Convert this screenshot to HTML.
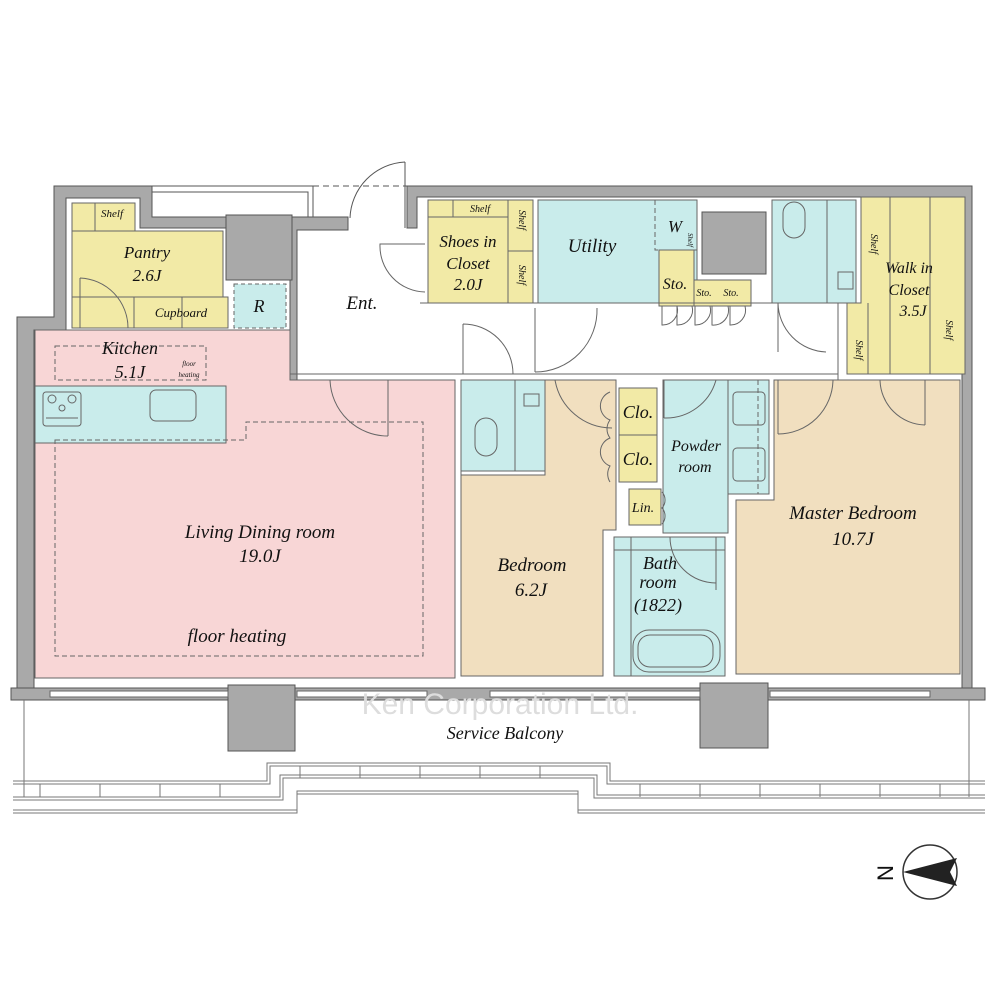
<!DOCTYPE html>
<html><head><meta charset="utf-8"><style>
html,body{margin:0;padding:0;background:#fff}
svg{display:block}
text{font-family:"Liberation Serif",serif;font-style:italic;fill:#111;text-anchor:middle}
</style></head><body>
<svg width="1000" height="1000" viewBox="0 0 1000 1000" xmlns="http://www.w3.org/2000/svg">
<g stroke="#555" stroke-width="1">
<!-- outer walls -->
<path d="M54 186H152V217H226V215H292V217H348V230H297V380H290V230H292V280H226V228H140V198H66V330H34V688H17V317H54Z" fill="#a9a9a9"/>
<path d="M407 186H972V690H962V197H417V228H407Z" fill="#a9a9a9"/>
<rect x="11" y="688" width="974" height="12" fill="#a9a9a9"/>
<!-- column -->
<rect x="226" y="215" width="66" height="65" fill="#a9a9a9"/>
<rect x="702" y="212" width="64" height="62" fill="#a9a9a9"/>
<rect x="228" y="685" width="67" height="66" fill="#a9a9a9"/>
<rect x="700" y="683" width="68" height="65" fill="#a9a9a9"/>
</g>
<!-- outside ent lines -->
<g fill="none" stroke="#555" stroke-width="1">
<path d="M152 186H313V217M152 192H308V217"/>
<path d="M313 186H407" stroke-dasharray="6 4"/>
<path d="M405 162V228M405 162A58 58 0 0 0 350 218"/>
</g>
<!-- rooms -->
<g stroke="#666" stroke-width="1">
<path d="M35 330H290V380H455V678H35Z" fill="#f8d6d6"/>
<rect x="72" y="203" width="63" height="28" fill="#f2eaa6"/>
<rect x="72" y="231" width="151" height="66" fill="#f2eaa6"/>
<rect x="72" y="297" width="62" height="31" fill="#f2eaa6"/>
<rect x="134" y="297" width="94" height="31" fill="#f2eaa6"/>
<rect x="234" y="284" width="52" height="44" fill="#c9eceb" stroke-dasharray="4 3"/>
<rect x="35" y="386" width="191" height="57" fill="#c9eceb"/>
<rect x="428" y="200" width="105" height="103" fill="#f2eaa6"/>
<rect x="538" y="200" width="159" height="103" fill="#c9eceb"/>
<rect x="659" y="250" width="35" height="56" fill="#f2eaa6"/>
<rect x="694" y="280" width="57" height="26" fill="#f2eaa6"/>
<rect x="772" y="200" width="84" height="103" fill="#c9eceb"/>
<path d="M861 197H965V374H847V303H861Z" fill="#f2eaa6"/>
<rect x="461" y="380" width="84" height="91" fill="#c9eceb"/>
<path d="M461 475H545V380H616V530H603V676H461Z" fill="#f1dfbf"/>
<rect x="619" y="388" width="38" height="94" fill="#f2eaa6"/>
<rect x="629" y="489" width="32" height="36" fill="#f2eaa6"/>
<path d="M663 380H769V494H728V533H663Z" fill="#c9eceb"/>
<rect x="614" y="537" width="111" height="139" fill="#c9eceb"/>
<path d="M774 380H960V674H736V500H774Z" fill="#f1dfbf"/>
</g>
<!-- interior lines -->
<g fill="none" stroke="#666" stroke-width="1">
<path d="M95 203V231M72 297H134M182 297V328"/>
<path d="M453 200V217M428 217H508M508 200V303M508 251H533"/>
<path d="M827 200V303M532 380H545M461 380V475"/>
<path d="M515 380V471M614 550H725M631 537V676"/>
<path d="M619 435H657M728 380V494"/>
<path d="M890 197V374M930 197V374M868 303V374"/>
<path d="M655 200V250H697" stroke-dasharray="5 3"/>
<path d="M758 380V494" stroke-dasharray="5 3"/>
<path d="M55 346H206V380H55Z" stroke-dasharray="5 3"/>
<path d="M55 440H246V422H423V656H55Z" stroke-dasharray="5 3"/>
<path d="M290 380H455M290 374H838V380M838 303V380M420 303H838"/>
<!-- doors -->
<path d="M80 278V328M80 278A50 50 0 0 1 128 328"/>
<path d="M425 244H380A46 46 0 0 0 425 292"/>
<path d="M463 324V374M463 324A50 50 0 0 1 513 374"/>
<path d="M535 308V372M535 372A62 62 0 0 0 597 308"/>
<path d="M388 380V436M388 436A58 58 0 0 1 330 380"/>
<path d="M555 380A58 58 0 0 0 612 428"/>
<path d="M664 380V418M664 418A52 52 0 0 0 716 380"/>
<path d="M778 380V434M778 434A55 55 0 0 0 833 380"/>
<path d="M925 380V425M880 380A46 46 0 0 0 925 425"/>
<path d="M778 303V352M778 303A50 50 0 0 0 826 352"/>
<path d="M716 537V590M670 537A46 46 0 0 0 716 583"/>
<path d="M610 392A15 15 0 0 0 610 420A15 15 0 0 0 610 438A15 15 0 0 0 610 466A15 15 0 0 0 610 482"/>
<path d="M662 492A12 12 0 0 1 662 508A12 12 0 0 1 662 524"/>
<path d="M662 306V325A15 15 0 0 0 677 306M677 306V325A15 15 0 0 0 692 306M695 306V325A15 15 0 0 0 710 306M712 306V325A15 15 0 0 0 728 306M730 306V325A15 15 0 0 0 745 306"/>
<!-- fixtures -->
<rect x="43" y="392" width="38" height="34" rx="3"/>
<circle cx="52" cy="399" r="4"/><circle cx="72" cy="399" r="4"/><circle cx="62" cy="408" r="3"/>
<path d="M46 418H78"/>
<rect x="150" y="390" width="46" height="31" rx="6"/>
<rect x="783" y="202" width="22" height="36" rx="11"/>
<rect x="475" y="418" width="22" height="38" rx="11"/>
<rect x="524" y="394" width="15" height="12"/>
<rect x="838" y="272" width="15" height="17"/>
<rect x="733" y="392" width="32" height="33" rx="4"/>
<rect x="733" y="448" width="32" height="33" rx="4"/>
<rect x="633" y="630" width="87" height="42" rx="16"/>
<rect x="638" y="635" width="75" height="32" rx="12"/>
</g>
<!-- windows -->
<g fill="#fff" stroke="#666" stroke-width="1">
<rect x="50" y="691" width="178" height="6"/>
<rect x="297" y="691" width="130" height="6"/>
<rect x="490" y="691" width="210" height="6"/>
<rect x="770" y="691" width="160" height="6"/>
</g>
<!-- balcony -->
<g fill="none" stroke="#777" stroke-width="1">
<path d="M24 700V797M969 700V797"/>
<path d="M13 781H267V763H610V781H985M13 784H270V766H607V784H985"/>
<path d="M13 797H280V775H597V795H985M13 800H283V778H594V798H985"/>
<path d="M13 810H297V791H578V810H985M13 813H297V794H578V813H985"/>
<path d="M40 784V797M100 784V797M160 784V797M220 784V797M300 766V778M360 766V778M420 766V778M480 766V778M540 766V778M640 784V797M700 784V797M760 784V797M820 784V797M880 784V797M940 784V797"/>
</g>
<!-- compass -->
<circle cx="930" cy="872" r="27" fill="#fff" stroke="#333" stroke-width="1.5"/>
<path d="M903 872L957 858L950 872L957 886Z" fill="#222"/>
<text x="885" y="881" style="font-style:normal;font-family:'Liberation Sans',sans-serif" font-size="22" transform="rotate(-90 885 873)">N</text>
<!-- labels -->
<text x="500" y="714" font-size="30" style="fill:#ddd;font-style:normal;font-family:'Liberation Sans',sans-serif">Ken Corporation Ltd.</text>
<text x="112" y="217" font-size="11">Shelf</text>
<text x="147" y="258" font-size="17">Pantry</text>
<text x="147" y="281" font-size="17">2.6J</text>
<text x="181" y="317" font-size="13">Cupboard</text>
<text x="259" y="312" font-size="18">R</text>
<text x="362" y="309" font-size="19">Ent.</text>
<text x="130" y="354" font-size="18">Kitchen</text>
<text x="130" y="378" font-size="18">5.1J</text>
<text x="189" y="366" font-size="7">floor</text>
<text x="189" y="377" font-size="7">heating</text>
<text x="260" y="538" font-size="19">Living Dining room</text>
<text x="260" y="562" font-size="19">19.0J</text>
<text x="237" y="642" font-size="19">floor heating</text>
<text x="468" y="247" font-size="17">Shoes in</text>
<text x="468" y="269" font-size="17">Closet</text>
<text x="468" y="290" font-size="17">2.0J</text>
<text x="480" y="212" font-size="10">Shelf</text>
<text x="519" y="220" font-size="10" transform="rotate(90 519 220)">Shelf</text>
<text x="519" y="275" font-size="10" transform="rotate(90 519 275)">Shelf</text>
<text x="592" y="252" font-size="19">Utility</text>
<text x="675" y="232" font-size="17">W</text>
<text x="688" y="240" font-size="7" transform="rotate(90 688 240)">Shelf</text>
<text x="675" y="289" font-size="16">Sto.</text>
<text x="704" y="296" font-size="10">Sto.</text>
<text x="731" y="296" font-size="10">Sto.</text>
<text x="909" y="273" font-size="16">Walk in</text>
<text x="909" y="295" font-size="16">Closet</text>
<text x="913" y="316" font-size="16">3.5J</text>
<text x="871" y="244" font-size="10" transform="rotate(90 871 244)">Shelf</text>
<text x="856" y="350" font-size="10" transform="rotate(90 856 350)">Shelf</text>
<text x="946" y="330" font-size="10" transform="rotate(90 946 330)">Shelf</text>
<text x="638" y="418" font-size="18">Clo.</text>
<text x="638" y="465" font-size="18">Clo.</text>
<text x="696" y="451" font-size="16">Powder</text>
<text x="695" y="472" font-size="16">room</text>
<text x="643" y="512" font-size="14">Lin.</text>
<text x="853" y="519" font-size="19">Master Bedroom</text>
<text x="853" y="545" font-size="19">10.7J</text>
<text x="532" y="571" font-size="19">Bedroom</text>
<text x="531" y="596" font-size="19">6.2J</text>
<text x="660" y="569" font-size="18">Bath</text>
<text x="658" y="588" font-size="18">room</text>
<text x="658" y="611" font-size="18">(1822)</text>
<text x="505" y="739" font-size="18">Service Balcony</text>
</svg>
</body></html>
